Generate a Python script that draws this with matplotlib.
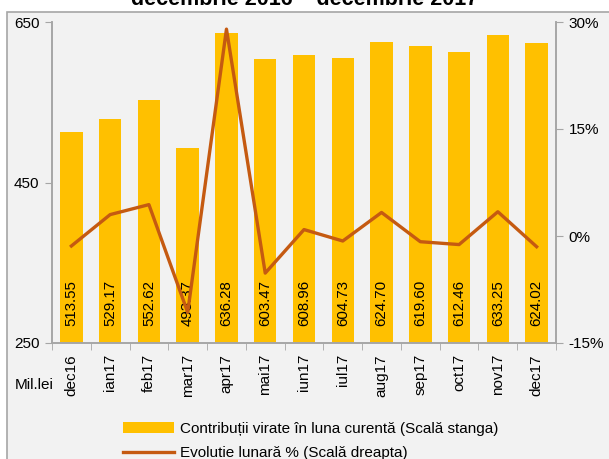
import matplotlib
matplotlib.use("Agg")
import matplotlib.pyplot as plt
from matplotlib.patches import Rectangle
from matplotlib.lines import Line2D
from matplotlib.patches import Patch
import numpy as np

plt.rcParams['font.family'] = ['Liberation Sans', 'DejaVu Sans']

categories = ["dec16", "ian17", "feb17", "mar17", "apr17", "mai17", "iun17",
              "iul17", "aug17", "sep17", "oct17", "nov17", "dec17"]
contributii = [513.55, 529.17, 552.62, 493.37, 636.28, 603.47, 608.96,
               604.73, 624.70, 619.60, 612.46, 633.25, 624.02]
evolutie = [-1.4, 3.0, 4.4, -10.7, 29.0, -5.2, 0.9, -0.7, 3.3, -0.8, -1.2, 3.4, -1.5]
left_ticks = [250, 450, 650]
right_ticks = [-15, 0, 15, 30]

W, H = 609, 459
fig = plt.figure(figsize=(W / 100, H / 100), dpi=100)
fig.patch.set_facecolor("white")

# outer frame
fig.patches.append(Rectangle((7 / W, -0.05), 1.2, 1 - 11.5 / H + 0.05,
                             transform=fig.transFigure, facecolor="#F2F2F2",
                             edgecolor="#A6A6A6", linewidth=1.2, zorder=-10))

fig.text(0.5, 1 - 5 / H, "decembrie 2016 \u2013 decembrie 2017", ha="center",
         va="baseline", fontsize=15.5, fontweight="bold")

left, right, top, bottom = 52, 556, 22, 343
ax = fig.add_axes([left / W, 1 - bottom / H, (right - left) / W, (bottom - top) / H])
ax.set_zorder(1)
ax.set_facecolor("none")
x = np.arange(len(categories))
ax.bar(x, contributii, width=0.58, color="#FFC000", zorder=2)
ax.set_xlim(-0.5, len(categories) - 0.5)
ax.set_ylim(250, 650)
ax.set_yticks(left_ticks)
ax.set_yticklabels([str(v) for v in left_ticks], fontsize=11)
for xi, v in zip(x, contributii):
    ax.text(xi, 271, f"{v:.2f}", rotation=90, ha="center", va="bottom",
            fontsize=10.8, color="black", zorder=3)

ax.set_xticks(x)
ax.set_xticklabels(categories, rotation=90, fontsize=11)
ax.tick_params(axis="x", length=0, pad=8)
ax.set_xticks(np.arange(-0.5, len(categories), 1), minor=True)
ax.tick_params(axis="x", which="minor", length=5, color="#A6A6A6")
ax.tick_params(axis="y", length=5, color="#A6A6A6", pad=4)
ax.spines["top"].set_visible(False)
for s in ["left", "right", "bottom"]:
    ax.spines[s].set_color("#A6A6A6")
    ax.spines[s].set_linewidth(1.2)

ax2 = ax.twinx()
ax2.set_zorder(2)
ax2.set_facecolor("none")
ax2.plot(x, evolutie, color="#C55A11", linewidth=2.4, zorder=4)
ax2.set_ylim(-15, 30)
ax2.set_yticks(right_ticks)
ax2.set_yticklabels([f"{v}%" for v in right_ticks], fontsize=11)
ax2.tick_params(axis="y", length=5, color="#A6A6A6", pad=4)
ax2.spines["top"].set_visible(False)
for s in ["left", "right", "bottom"]:
    ax2.spines[s].set_color("#A6A6A6")
    ax2.spines[s].set_linewidth(1.2)

fig.text(15 / W, 1 - 385 / H, "Mil.lei", ha="left", va="center", fontsize=11)

handles = [Patch(facecolor="#FFC000", edgecolor="none"),
           Line2D([], [], color="#C55A11", linewidth=2.4)]
labels = ["Contribuții virate în luna curentă (Scală stanga)",
          "Evolutie lunară % (Scală dreapta)"]
fig.legend(handles, labels, loc="upper left", bbox_to_anchor=(117 / W, 1 - 416 / H),
           frameon=False, fontsize=11, handlelength=3.3, handleheight=0.7,
           labelspacing=0.65, handletextpad=0.4, borderaxespad=0)

fig.savefig("out.png", dpi=100)
